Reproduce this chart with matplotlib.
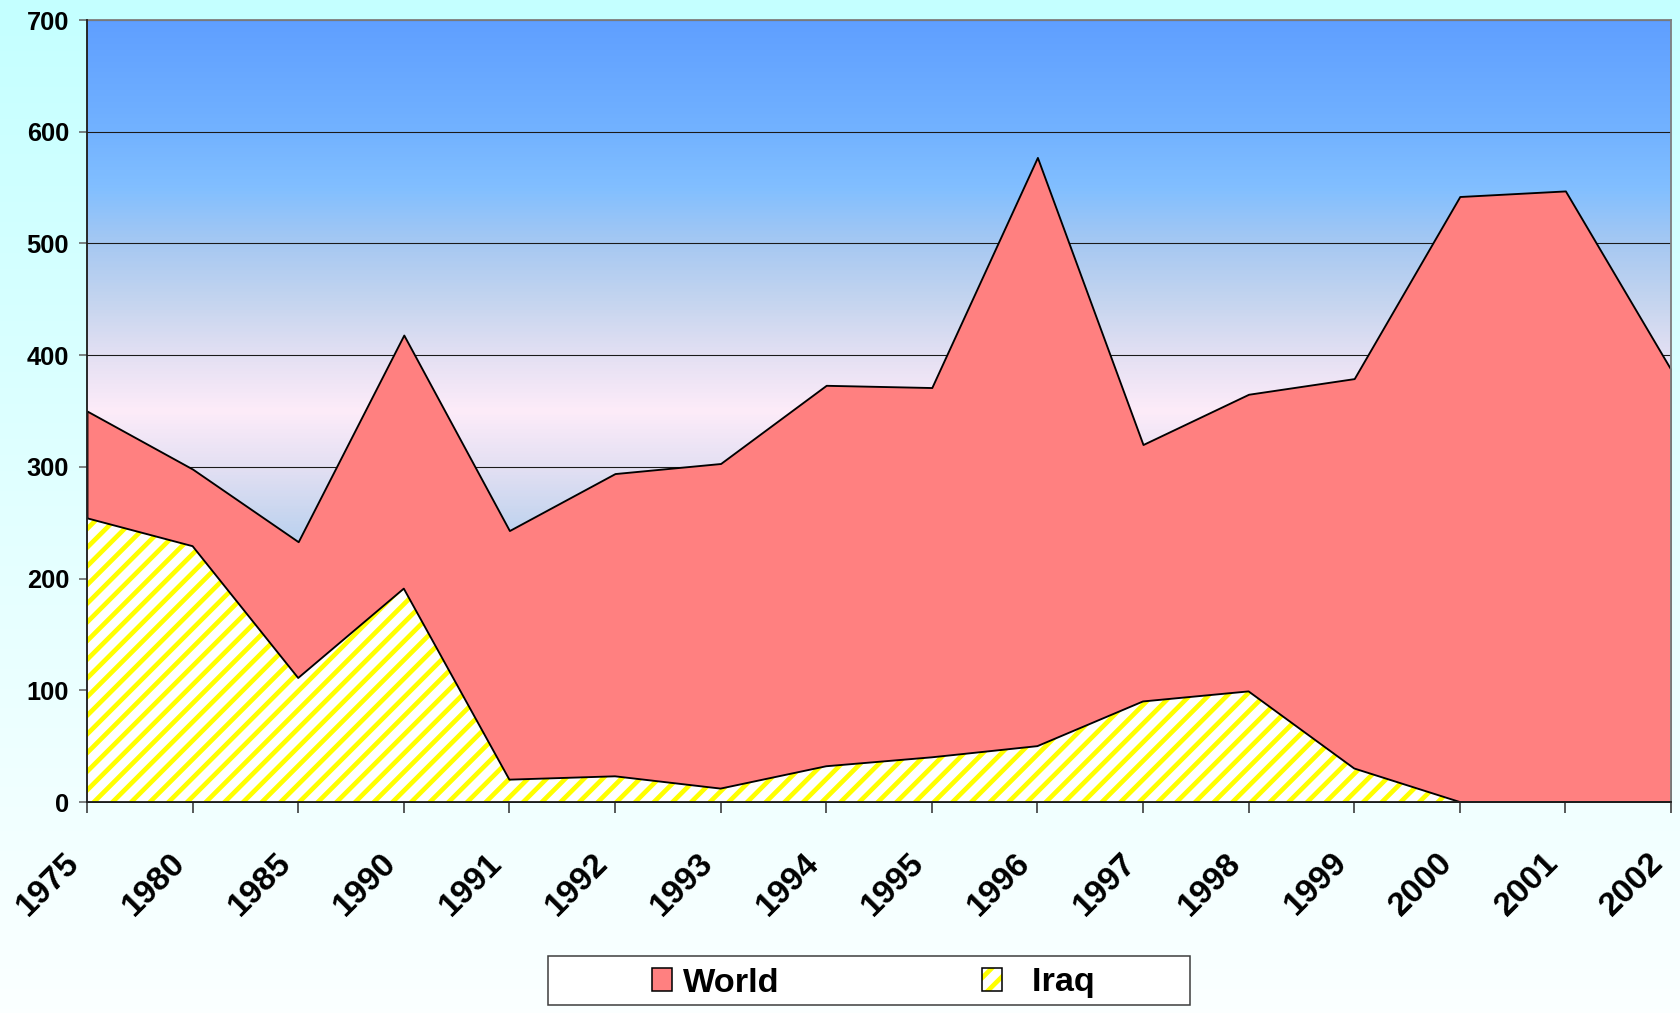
import numpy as np
import matplotlib
matplotlib.use('Agg')
import matplotlib.pyplot as plt
from matplotlib.colors import LinearSegmentedColormap
from matplotlib.patches import Patch, Rectangle
from matplotlib.transforms import ScaledTranslation

# data
years = ['1975', '1980', '1985', '1990', '1991', '1992', '1993', '1994',
         '1995', '1996', '1997', '1998', '1999', '2000', '2001', '2002']
world = [350, 298, 233, 418, 243, 294, 303, 373, 371, 577, 320, 365, 379, 542, 547, 387]
iraq = [254, 229, 111, 191, 20, 23, 12, 32, 40, 50, 90, 99, 30, 0, 0, 0]
y_ticks = [0, 100, 200, 300, 400, 500, 600, 700]

plt.rcParams['hatch.color'] = '#ffff00'
plt.rcParams['hatch.linewidth'] = 3.0

DPI = 112
fig = plt.figure(figsize=(1680 / DPI, 1013 / DPI), dpi=DPI)

# figure background: light cyan fading to white
bg = fig.add_axes([0, 0, 1, 1], zorder=-10)
bg_cmap = LinearSegmentedColormap.from_list('bg', ['#c4ffff', '#e2ffff', '#fbffff'])
bg.imshow(np.linspace(0, 1, 256).reshape(-1, 1), cmap=bg_cmap, aspect='auto',
          extent=[0, 1, 0, 1])
bg.set_axis_off()

ax = fig.add_axes([87 / 1680, 1 - 802 / 1013, (1671 - 87) / 1680, (802 - 20) / 1013])
x = np.arange(len(years))

# plot area gradient: blue at the edges, pink in the middle
stops = [(0.0, '#5f9fff'), (0.14, '#72b2ff'), (0.215, '#82bfff'), (0.285, '#a6c8f2'),
         (0.36, '#c5d5ef'), (0.43, '#e4e0f3'), (0.5, '#fdecf9'),
         (0.57, '#e4e0f3'), (0.64, '#c5d5ef'), (0.715, '#a6c8f2'), (0.785, '#82bfff'),
         (0.86, '#72b2ff'), (1.0, '#5f9fff')]
pa_cmap = LinearSegmentedColormap.from_list('pa', stops)
ax.imshow(np.linspace(0, 1, 512).reshape(-1, 1), cmap=pa_cmap, aspect='auto',
          extent=[0, len(years) - 1, 0, 700], zorder=0)

ax.fill_between(x, world, 0, facecolor='#ff8080', edgecolor='black', linewidth=1.2, zorder=2)
ax.fill_between(x, iraq, 0, facecolor='white', edgecolor='#ffff00', hatch='//',
                linewidth=0, zorder=3)
ax.plot(x, iraq, color='black', linewidth=1.2, zorder=4)

ax.set_xlim(0, len(years) - 1)
ax.set_ylim(0, 700)
ax.set_yticks(y_ticks)
ax.set_yticklabels([str(v) for v in y_ticks], fontfamily='Liberation Sans',
                   fontweight='bold', fontsize=16.3)
ax.set_xticks(x)
ax.set_xticklabels(years, rotation=45, ha='right', va='top', rotation_mode='anchor',
                   fontfamily='Liberation Sans', fontweight='bold', fontsize=21.5)

ax.yaxis.grid(True, color='#1a1a1a', linewidth=0.7)
ax.set_axisbelow(True)
ax.tick_params(axis='y', length=5.1, width=1, color='#606060', pad=6.4)
ax.tick_params(axis='x', length=7, width=1, color='#303030', pad=22)

# shift rotated year labels left (after tick_params, which resets transforms)
for lbl in ax.get_xticklabels():
    lbl.set_transform(lbl.get_transform() + ScaledTranslation(-23 / DPI, 0, fig.dpi_scale_trans))

for side in ['top', 'right']:
    ax.spines[side].set_color('#808080')
    ax.spines[side].set_linewidth(1.2)
for side in ['left', 'bottom']:
    ax.spines[side].set_color('#202020')
    ax.spines[side].set_linewidth(1.2)
    ax.spines[side].set_zorder(5)

# legend box
fig.patches.append(Rectangle((548 / 1680, 1 - 1005 / 1013), 642 / 1680, 49 / 1013,
                             transform=fig.transFigure, facecolor='white',
                             edgecolor='#404040', linewidth=1.0, zorder=1))
h_world = Patch(facecolor='#ff8080', edgecolor='black', linewidth=1.0)
h_iraq = (Patch(facecolor='white', edgecolor='#ffff00', hatch='//', linewidth=0),
          Patch(facecolor='none', edgecolor='black', linewidth=1.0))
leg = fig.legend([h_world, h_iraq], ['World', '  Iraq'], ncol=2, frameon=False,
                 loc='center left', bbox_to_anchor=(635 / 1680, 1 - 983 / 1013),
                 borderpad=0, handlelength=0.58, handleheight=0.67, handletextpad=0.32,
                 columnspacing=5.92,
                 prop={'family': ['Liberation Sans Narrow', 'Liberation Sans'],
                       'weight': 'bold', 'size': 22})
leg.set_zorder(2)

fig.savefig('out.png', dpi=DPI)
